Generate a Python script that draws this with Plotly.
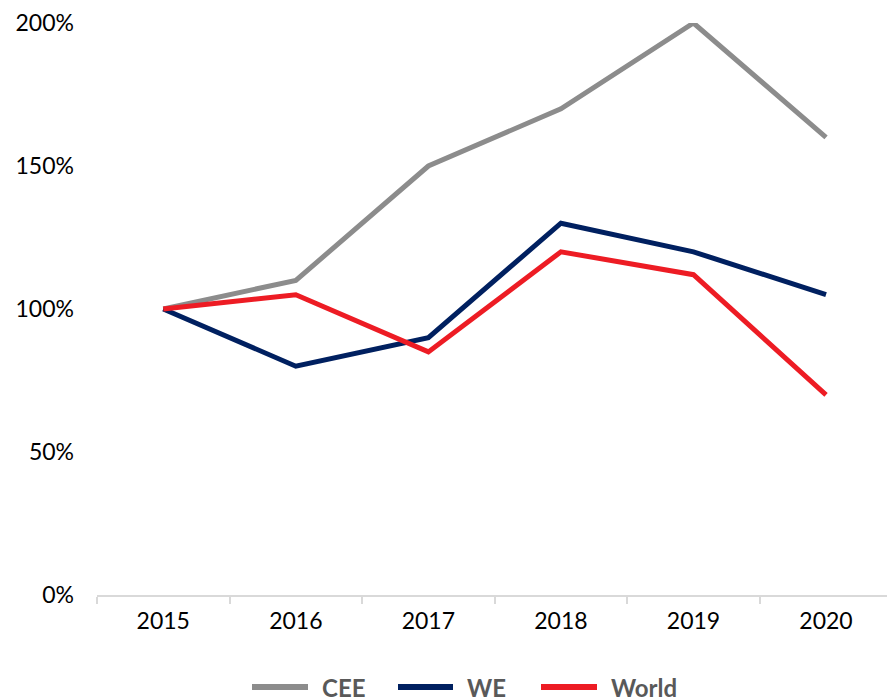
import plotly.graph_objects as go

years = ["2015", "2016", "2017", "2018", "2019", "2020"]
cee = [100, 110, 150, 170, 200, 160]
we = [100, 80, 90, 130, 120, 105]
world = [100, 105, 85, 120, 112, 70]

series = [
    ("CEE", cee, "#8C8C8C"),
    ("WE", we, "#002060"),
    ("World", world, "#ED1C24"),
]

fig = go.Figure()
for name, vals, color in series:
    fig.add_trace(go.Scatter(
        x=years, y=vals, name=name, mode="lines",
        line=dict(color=color, width=5),
        showlegend=False,
    ))

# legend drawn below the axis: a short line swatch plus a bold label per series
W, H = 887, 698
L, R, T, B = 97, 0, 23, 103
legend_items = [
    ("CEE", "#8C8C8C", 252, 308),
    ("WE", "#002060", 398, 453),
    ("World", "#ED1C24", 541, 597),
]
legend_y = 687  # pixel row of the legend from the top


def px_x(p):
    return (p - L) / (W - L - R)


def px_y(p):
    return (H - B - p) / (H - T - B)


shapes = []
annotations = []
for name, color, x0, x1 in legend_items:
    shapes.append(dict(
        type="line", xref="paper", yref="paper",
        x0=px_x(x0), x1=px_x(x1), y0=px_y(legend_y), y1=px_y(legend_y),
        line=dict(color=color, width=6), layer="above",
    ))
    annotations.append(dict(
        text=f"<b>{name}</b>", xref="paper", yref="paper",
        x=px_x(x1 + 12), y=px_y(legend_y),
        xanchor="left", yanchor="middle", showarrow=False,
        font=dict(family="Lato", size=24, color="#595959"),
    ))

fig.update_layout(
    width=W, height=H,
    margin=dict(l=L, r=R, t=T, b=B),
    plot_bgcolor="white", paper_bgcolor="white",
    font=dict(family="Lato", size=22, color="#000000"),
    shapes=shapes, annotations=annotations,
    xaxis=dict(
        type="category", range=[-0.5, 5.46],
        showgrid=False, showline=True, linecolor="#D9D9D9", linewidth=2,
        ticks="outside", tickson="boundaries", ticklen=7, tickcolor="#D9D9D9",
        tickwidth=2, ticklabelstandoff=4,
        tickfont=dict(family="Lato", size=23, color="#000000"),
        fixedrange=True,
    ),
    yaxis=dict(
        range=[0, 200], tickvals=[0, 50, 100, 150, 200],
        ticktext=["0%", "50%", "100%", "150%", "200%"],
        showgrid=False, zeroline=False, showline=False, ticks="",
        ticklabelstandoff=22,
        tickfont=dict(family="Lato", size=23, color="#000000"),
    ),
)
fig.write_html("out.html")
